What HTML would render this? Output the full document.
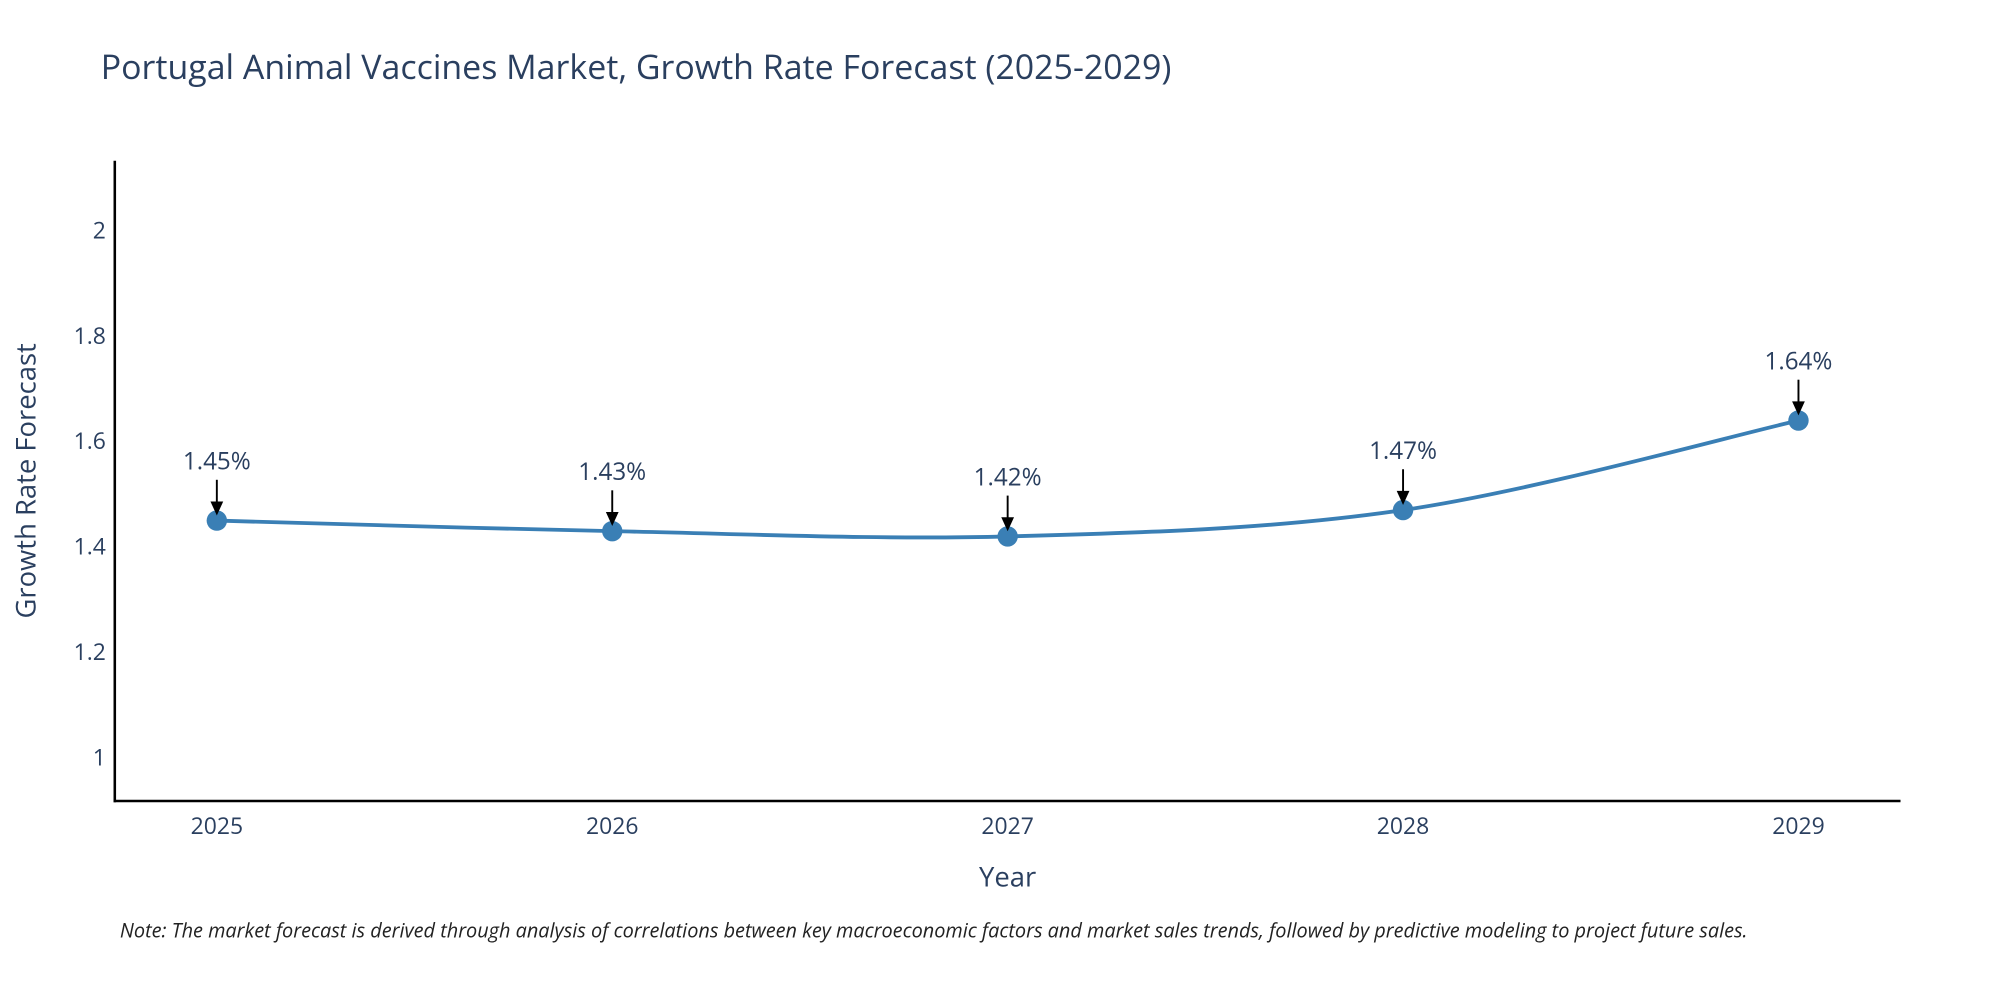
<!DOCTYPE html>
<html><head><meta charset="utf-8"><style>
html,body{margin:0;padding:0;background:#fff;}
svg{display:block;font-family:"Open Sans","Liberation Sans",sans-serif;}
</style></head><body>
<svg id="chart" width="2000" height="1000" viewBox="0 0 1568 784" xmlns="http://www.w3.org/2000/svg">
<text x="79" y="62" font-size="26.6" fill="#2a3f5f">Portugal Animal Vaccines Market, Growth Rate Forecast (2025-2029)</text>
<line x1="90" y1="126" x2="90" y2="629" stroke="#000" stroke-width="2"/>
<line x1="89" y1="628" x2="1490" y2="628" stroke="#000" stroke-width="2"/>
<g id="yticks"></g><g id="xticks"></g>
<text transform="translate(28,377) rotate(-90)" text-anchor="middle" font-size="21.5" fill="#2a3f5f">Growth Rate Forecast</text>
<text x="790" y="695" text-anchor="middle" font-size="21.5" fill="#2a3f5f">Year</text>
<path id="line" fill="none" stroke="#3a7fb5" stroke-width="3"/>
<g id="marks"></g>
<text x="94" y="735" font-size="15.6" font-style="italic" fill="#222">Note: The market forecast is derived through analysis of correlations between key macroeconomic factors and market sales trends, followed by predictive modeling to project future sales.</text>
</svg>
<script>
const years = [2025, 2026, 2027, 2028, 2029];
const values = [1.45, 1.43, 1.42, 1.47, 1.64];
const valueLabels = ["1.45%", "1.43%", "1.42%", "1.47%", "1.64%"];
const yTicks = [1, 1.2, 1.4, 1.6, 1.8, 2];
const yTickLabels = ["1", "1.2", "1.4", "1.6", "1.8", "2"];

const NS = "http://www.w3.org/2000/svg";
const xS = v => 170 + (v - 2025) * 310;
const yS = v => 594 - (v - 1) * 413;
function mk(tag, attrs, parent, txt) {
  const e = document.createElementNS(NS, tag);
  for (const k in attrs) e.setAttribute(k, attrs[k]);
  if (txt !== undefined) e.textContent = txt;
  parent.appendChild(e); return e;
}
const yt = document.getElementById('yticks');
yTicks.forEach((t, i) => {
  const el = mk('text', {x: 83, y: yS(t) + 6, 'text-anchor': 'end', 'font-size': 18, fill: '#2a3f5f'}, yt, yTickLabels[i]);
  
  
});
const xt = document.getElementById('xticks');
years.forEach(y => {
  const el = mk('text', {x: xS(y), y: 654, 'text-anchor': 'middle', 'font-size': 18, fill: '#2a3f5f'}, xt, String(y));
  
  
});
const pts = years.map((y, i) => [xS(y), yS(values[i])]);
let d = `M${pts[0][0]},${pts[0][1]}`;
for (let i = 0; i < pts.length - 1; i++) {
  const p0 = pts[Math.max(i - 1, 0)], p1 = pts[i], p2 = pts[i + 1], p3 = pts[Math.min(i + 2, pts.length - 1)];
  const t = 6;
  d += ` C${p1[0] + (p2[0] - p0[0]) / t},${p1[1] + (p2[1] - p0[1]) / t} ${p2[0] - (p3[0] - p1[0]) / t},${p2[1] - (p3[1] - p1[1]) / t} ${p2[0]},${p2[1]}`;
}
document.getElementById('line').setAttribute('d', d);
const g = document.getElementById('marks');
pts.forEach((p, i) => {
  const c = mk('circle', {cx: p[0], cy: p[1], r: 8, fill: '#3a7fb5'}, g);
  
  
  const ln = mk('line', {x1: p[0], y1: p[1] - 32, x2: p[0], y2: p[1] - 14, stroke: '#000', 'stroke-width': 1.5}, g);
  
  
  const hd = mk('path', {d: `M${p[0] - 5},${p[1] - 15} L${p[0] + 5},${p[1] - 15} L${p[0]},${p[1] - 4} Z`, fill: '#000'}, g);
  
  
  const tx = mk('text', {x: p[0], y: p[1] - 40, 'text-anchor': 'middle', 'font-size': 19, fill: '#2a3f5f'}, g, valueLabels[i]);
  
  
});
</script>
</body></html>
